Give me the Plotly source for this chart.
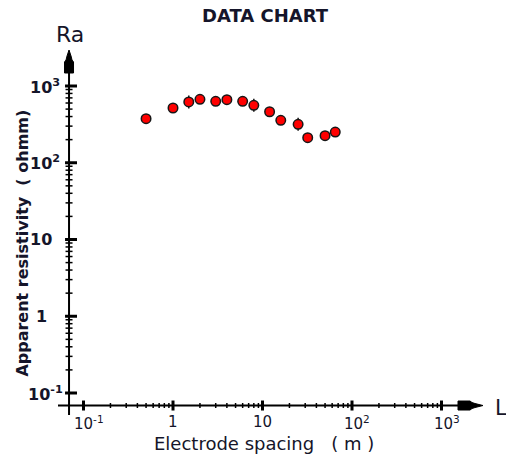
import math
import plotly.graph_objects as go

# ---------------- data ----------------
spacing_m = [0.5, 1, 1.5, 2, 3, 4, 6, 8, 12, 16, 25, 32, 50, 65]
resistivity_ohmm = [375, 517, 619, 671, 632, 663, 632, 560, 462, 357, 317, 212, 225, 251]
err_plus = [0, 0, 133, 0, 0, 0, 0, 120, 0, 0, 68, 0, 0, 0]
err_minus = [0, 0, 110, 0, 0, 0, 0, 99, 0, 0, 56, 0, 0, 0]

x_major = [0.1, 1, 10, 100, 1000]
x_labels = ["10<sup>-1</sup>", "1", "10", "10<sup>2</sup>", "10<sup>3</sup>"]
y_major = [0.1, 1, 10, 100, 1000]
y_labels = ["10<sup>-1</sup>", "1", "10", "10<sup>2</sup>", "10<sup>3</sup>"]
minor_mult = [2, 3, 4, 5, 6, 7, 8, 9]

title_text = "DATA CHART"
x_title = "Electrode spacing\u00a0\u00a0\u00a0( m )"
y_title = "Apparent resistivity\u00a0\u00a0( ohmm)"

# ---------------- layout constants ----------------
FONT = "DejaVu Sans"
TXT = "#15152a"
X_RANGE = [-1.285, 3.4637]
Y_RANGE = [-1.2866, 3.469]
PX_DEC_X = 89.5    # pixels per decade, x
PX_DEC_Y = 76.75   # pixels per decade, y
AXIS_X = 0.0689    # where the vertical axis crosses (data units)
AXIS_Y = 0.0687    # where the horizontal axis crosses (data units)


def xoff(px):
    return AXIS_X * 10 ** (px / PX_DEC_X)


def yoff(px):
    return AXIS_Y * 10 ** (px / PX_DEC_Y)


fig = go.Figure()
fig.add_trace(go.Scatter(
    x=spacing_m, y=resistivity_ohmm, mode="markers",
    marker=dict(size=9.5, color="#ff0000", line=dict(color="#161616", width=1.5)),
    error_y=dict(type="data", symmetric=False, array=err_plus, arrayminus=err_minus,
                 width=0, thickness=1.5, color="#161616"),
    showlegend=False, cliponaxis=False,
))

shapes = []
# axis lines
shapes.append(dict(type="line", xref="x", yref="paper", x0=AXIS_X, x1=AXIS_X, y0=0, y1=0.97,
                   line=dict(color="black", width=2)))
shapes.append(dict(type="line", xref="paper", yref="y", x0=0, x1=0.97, y0=AXIS_Y, y1=AXIS_Y,
                   line=dict(color="black", width=2)))
# arrowheads
shapes.append(dict(type="path", xref="x", yref="paper", xsizemode="pixel", ysizemode="pixel",
                   xanchor=AXIS_X, yanchor=1,
                   path="M0,0 L2,-6 L3,-10 L4.5,-12 L4.5,-23 L-4.5,-23 L-4.5,-12 L-3,-10 L-2,-6 Z",
                   fillcolor="black", line=dict(color="black", width=1)))
shapes.append(dict(type="path", xref="paper", yref="y", xsizemode="pixel", ysizemode="pixel",
                   xanchor=1, yanchor=AXIS_Y,
                   path="M0,0 L-8,2 L-11,3 L-13,4.5 L-25,4.5 L-25,-4.5 L-13,-4.5 L-11,-3 L-8,-2 Z",
                   fillcolor="black", line=dict(color="black", width=1)))
# y ticks
for v in y_major:
    shapes.append(dict(type="line", xref="x", yref="y", x0=xoff(-4), x1=xoff(8), y0=v, y1=v,
                       line=dict(color="black", width=3)))
for v in y_major[:-1]:
    for m in minor_mult:
        shapes.append(dict(type="line", xref="x", yref="y", x0=xoff(-3.5), x1=xoff(3.5),
                           y0=v * m, y1=v * m, line=dict(color="black", width=1.5)))
# x ticks
for v in x_major:
    shapes.append(dict(type="line", xref="x", yref="y", y0=yoff(-5), y1=yoff(5), x0=v, x1=v,
                       line=dict(color="black", width=3)))
for v in x_major[:-1]:
    for m in minor_mult:
        shapes.append(dict(type="line", xref="x", yref="y", y0=yoff(-2.5), y1=yoff(2.5),
                           x0=v * m, x1=v * m, line=dict(color="black", width=1.5)))

ann = []
for v, t in zip(y_major, y_labels):
    ann.append(dict(x=math.log10(AXIS_X), y=math.log10(v), xref="x", yref="y", text="<b>" + t + "</b>",
                    showarrow=False, xanchor="center", yanchor="middle",
                    xshift=-28 + (4 if "<sup>" in t else 0),
                    font=dict(family=FONT, size=16, color=TXT)))
for v, t in zip(x_major, x_labels):
    ann.append(dict(x=math.log10(v), y=math.log10(AXIS_Y), xref="x", yref="y", text=t,
                    showarrow=False, xanchor="center", yanchor="top",
                    xshift=(5 if "<sup>" in t else 0), yshift=-5,
                    font=dict(family=FONT, size=15, color=TXT)))
ann.append(dict(x=math.log10(AXIS_X), y=1, xref="x", yref="paper", text="Ra", showarrow=False,
                xanchor="center", yanchor="bottom", xshift=1, yshift=1,
                font=dict(family=FONT, size=22, color=TXT)))
ann.append(dict(x=1, y=math.log10(AXIS_Y), xref="paper", yref="y", text="L", showarrow=False,
                xanchor="left", yanchor="middle", xshift=10, yshift=-2,
                font=dict(family=FONT, size=21, color=TXT)))
ann.append(dict(x=math.log10(AXIS_X), y=0.471, xref="x", yref="paper", text="<b>" + y_title + "</b>",
                showarrow=False, textangle=-90, xanchor="center", yanchor="middle", xshift=-46.5,
                font=dict(family=FONT, size=16, color=TXT)))
ann.append(dict(x=0.485, y=math.log10(AXIS_Y), xref="paper", yref="y", text=x_title,
                showarrow=False, xanchor="center", yanchor="middle", yshift=-38,
                font=dict(family=FONT, size=18, color=TXT)))

fig.update_layout(
    width=506, height=456,
    margin=dict(l=58, r=23, t=50, b=41),
    paper_bgcolor="white", plot_bgcolor="white",
    title=dict(text="<b>" + title_text + "</b>", x=265 / 506, xref="container", xanchor="center",
               y=1 - 16 / 456, yref="container", yanchor="middle",
               font=dict(family=FONT, size=18, color=TXT)),
    xaxis=dict(type="log", range=X_RANGE, showline=False, showgrid=False, zeroline=False,
               showticklabels=False, ticks=""),
    yaxis=dict(type="log", range=Y_RANGE, showline=False, showgrid=False, zeroline=False,
               showticklabels=False, ticks=""),
    shapes=shapes, annotations=ann,
)

fig.write_html("out.html", config={"displayModeBar": False},
               post_script="document.body.style.margin='0px';")
